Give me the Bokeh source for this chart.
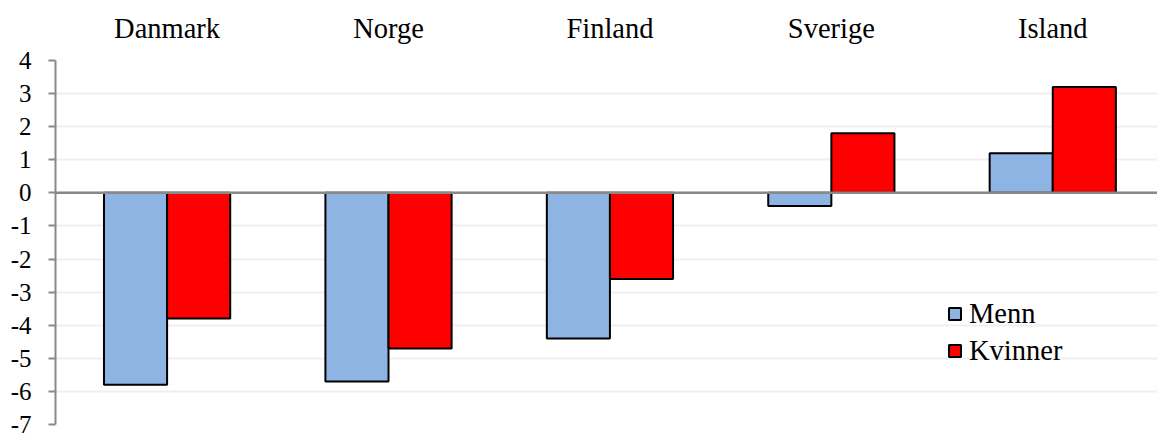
from bokeh.plotting import figure
from bokeh.models import ColumnDataSource, Range1d, FixedTicker, Span, Legend, LegendItem
from bokeh.embed import file_html
from bokeh.resources import INLINE

countries = ["Danmark", "Norge", "Finland", "Sverige", "Island"]
menn = [-5.8, -5.7, -4.4, -0.4, 1.2]
kvinner = [-3.8, -4.7, -2.6, 1.8, 3.2]
y_ticks = [4, 3, 2, 1, 0, -1, -2, -3, -4, -5, -6, -7]
y_labels = ["4", "3", "2", "1", "0", "-1", "-2", "-3", "-4", "-5", "-6", "-7"]

FONT = "Liberation Serif"
idx = [i + 0.5 for i in range(len(countries))]
bw = 0.285

src_m = ColumnDataSource(dict(x=[i - bw / 2 for i in idx], top=menn))
src_k = ColumnDataSource(dict(x=[i + bw / 2 for i in idx], top=kvinner))

p = figure(width=1157, height=437, output_backend="svg", toolbar_location=None,
           x_range=Range1d(-0.004, 4.973), y_range=Range1d(-7, 4),
           x_axis_location="above", min_border_left=55, min_border_right=0,
           min_border_top=60, min_border_bottom=13)
p.outline_line_color = None
p.background_fill_color = "white"
p.border_fill_color = "white"

# gridlines
p.xgrid.visible = False
p.ygrid.ticker = FixedTicker(ticks=y_ticks)
p.ygrid.grid_line_color = "#EFEFEF"
p.ygrid.grid_line_width = 2

# y axis
ya = p.yaxis[0]
ya.ticker = FixedTicker(ticks=y_ticks)
ya.major_label_overrides = {t: s for t, s in zip(y_ticks, y_labels)}
ya.axis_line_color = "#898989"
ya.axis_line_width = 2
ya.major_tick_line_color = "#898989"
ya.major_tick_line_width = 2
ya.major_tick_out = 7
ya.major_tick_in = 0
ya.minor_tick_line_color = None
ya.major_label_standoff = 17
ya.major_label_text_font = FONT
ya.major_label_text_font_size = "25px"
ya.major_label_text_color = "black"

# category axis on top
xa = p.xaxis[0]
xa.ticker = FixedTicker(ticks=idx)
xa.major_label_overrides = {v: c for v, c in zip(idx, countries)}
xa.axis_line_color = None
xa.major_tick_line_color = None
xa.minor_tick_line_color = None
xa.major_label_standoff = 11
xa.major_label_text_font = FONT
xa.major_label_text_font_size = "28.5px"
xa.major_label_text_color = "black"

r_m = p.vbar(x="x", top="top", bottom=0, width=bw, source=src_m,
             fill_color="#8EB4E3", line_color="black", line_width=2)
r_k = p.vbar(x="x", top="top", bottom=0, width=bw, source=src_k,
             fill_color="#FF0000", line_color="black", line_width=2)

p.add_layout(Span(location=0, dimension="width", line_color="#898989", line_width=2.5))

legend = Legend(items=[LegendItem(label="Menn", renderers=[r_m]),
                       LegendItem(label="Kvinner", renderers=[r_k])],
                location=(892, 57), padding=0, margin=0, spacing=4,
                glyph_width=15, glyph_height=15, label_height=33,
                label_standoff=7, label_text_font=FONT,
                label_text_font_size="28.5px", label_text_color="black",
                border_line_color=None, background_fill_alpha=0)
p.add_layout(legend, "center")

open("out.html", "w").write(file_html(p, INLINE))
